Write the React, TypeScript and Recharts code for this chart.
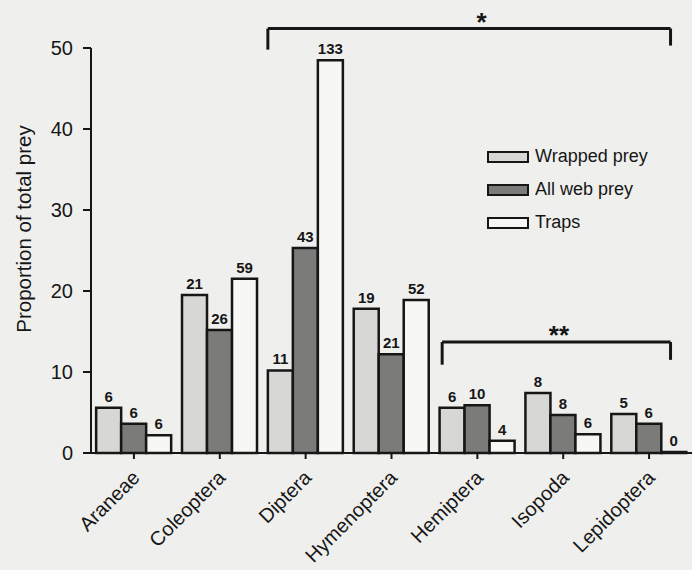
import React from 'react';
import { BarChart, Bar, XAxis, YAxis, LabelList, Legend, ReferenceLine, ReferenceDot } from 'recharts';

const categories = ['Araneae', 'Coleoptera', 'Diptera', 'Hymenoptera', 'Hemiptera', 'Isopoda', 'Lepidoptera'];
const seriesNames = ['Wrapped prey', 'All web prey', 'Traps'];
const wrapped = [5.6, 19.5, 10.2, 17.8, 5.6, 7.4, 4.8];
const allWeb = [3.6, 15.2, 25.3, 12.2, 5.9, 4.7, 3.6];
const traps = [2.2, 21.5, 48.5, 18.9, 1.5, 2.3, 0];
const wrappedN = [6, 21, 11, 19, 6, 8, 5];
const allWebN = [6, 26, 43, 21, 10, 8, 6];
const trapsN = [6, 59, 133, 52, 4, 6, 0];
const yTicks = [0, 10, 20, 30, 40, 50];

// significance brackets, x in band units (band k spans [k, k+1])
const bracket1 = { x1: 2.06, x2: 6.75, y: 52.4, yl: 49.8, yr: 50.3, mark: '*', mx: 4.55, my: 54.0 };
const bracket2 = { x1: 4.09, x2: 6.75, y: 13.7, yl: 10.9, yr: 11.5, mark: '**', mx: 5.45, my: 15.3 };

const data = categories.map((c, i) => ({
  name: c,
  wrapped: wrapped[i],
  allWeb: allWeb[i],
  traps: traps[i],
  wrappedN: wrappedN[i],
  allWebN: allWebN[i],
  trapsN: trapsN[i],
}));

// hidden numeric helper axis spans [0, n-1] across the plot width
const NUM_MAX = categories.length - 1;
const band = (b: number) => (b * NUM_MAX) / categories.length;

const FONT = '"Liberation Sans", Arial, Helvetica, sans-serif';
const INK = '#161616';

const XTick = (props: any) => {
  const { x, y, payload } = props;
  return (
    <g transform={`translate(${x + 2},${y + 13})`}>
      <text
        textAnchor="end"
        transform="rotate(-45)"
        fontSize={20}
        fontFamily={FONT}
        fill={INK}
        dy="0.35em"
      >
        {payload.value}
      </text>
    </g>
  );
};

const LegendContent = (props: any) => {
  const payload = [...(props.payload || [])].sort(
    (a: any, b: any) => seriesNames.indexOf(a.value) - seriesNames.indexOf(b.value)
  );
  return (
    <div style={{ fontFamily: FONT, fontSize: 18, color: INK }}>
      {payload.map((p: any) => (
        <div key={p.value} style={{ display: 'flex', alignItems: 'center', height: 33 }}>
          <div
            style={{
              width: 38,
              height: 8,
              background: p.color,
              border: `2px solid ${INK}`,
              marginRight: 6,
            }}
          />
          <span>{p.value}</span>
        </div>
      ))}
    </div>
  );
};

const YLabel = () => (
  <text
    x={0}
    y={0}
    transform="translate(31,229) rotate(-90)"
    textAnchor="middle"
    fontSize={20.5}
    fontFamily={FONT}
    fill={INK}
  >
    Proportion of total prey
  </text>
);

const labelStyle = { fontSize: 15, fontFamily: FONT, fill: INK, fontWeight: 'bold' as const };

export default function App() {
  const bk = (b: typeof bracket1, key: string) => [
    <ReferenceLine
      key={key + 'h'}
      xAxisId="n"
      ifOverflow="visible"
      segment={[{ x: band(b.x1), y: b.y }, { x: band(b.x2), y: b.y }]}
      stroke={INK}
      strokeWidth={3}
    />,
    <ReferenceLine
      key={key + 'l'}
      xAxisId="n"
      ifOverflow="visible"
      segment={[{ x: band(b.x1), y: b.y }, { x: band(b.x1), y: b.yl }]}
      stroke={INK}
      strokeWidth={3}
    />,
    <ReferenceLine
      key={key + 'r'}
      xAxisId="n"
      ifOverflow="visible"
      segment={[{ x: band(b.x2), y: b.y }, { x: band(b.x2), y: b.yr }]}
      stroke={INK}
      strokeWidth={3}
    />,
    <ReferenceDot
      key={key + 'm'}
      xAxisId="n"
      x={band(b.mx)}
      y={b.my}
      r={0}
      ifOverflow="visible"
      stroke="none"
      fill="none"
      label={{ value: b.mark, position: 'center', fontSize: 26, fontWeight: 'bold', fill: INK, fontFamily: FONT, dy: 6 }}
    />,
  ];

  return (
    <div style={{ position: 'absolute', left: 0, top: 0, width: 692, height: 570, background: '#efefed', overflow: 'hidden' }}>
      <BarChart
        width={692}
        height={570}
        data={data}
        margin={{ top: 48, right: 0, bottom: 18, left: 38 }}
        barCategoryGap="6%"
        barGap={0}
        style={{ fontFamily: FONT }}
      >
        <XAxis
          dataKey="name"
          xAxisId="c"
          interval={0}
          height={99}
          tick={<XTick />}
          tickSize={6}
          axisLine={{ stroke: INK, strokeWidth: 2 }}
          tickLine={{ stroke: INK, strokeWidth: 2 }}
        />
        <XAxis xAxisId="n" type="number" domain={[0, NUM_MAX]} allowDataOverflow hide />
        <YAxis
          domain={[0, 50]}
          ticks={yTicks}
          width={53}
          tickSize={8}
          tickMargin={10}
          interval={0}
          tick={{ fontSize: 20, fill: INK, fontFamily: FONT }}
          axisLine={{ stroke: INK, strokeWidth: 2 }}
          tickLine={{ stroke: INK, strokeWidth: 2 }}
          label={<YLabel />}
        />
        <Legend
          layout="vertical"
          verticalAlign="middle"
          align="center"
          content={<LegendContent />}
          wrapperStyle={{ position: 'absolute', left: 487, top: 140, width: 200 }}
        />
        <Bar xAxisId="c" dataKey="wrapped" name="Wrapped prey" fill="#d7d7d5" stroke={INK} strokeWidth={2.5} isAnimationActive={false}>
          <LabelList dataKey="wrappedN" position="top" offset={6} style={labelStyle} />
        </Bar>
        <Bar xAxisId="c" dataKey="allWeb" name="All web prey" fill="#7b7b79" stroke={INK} strokeWidth={2.5} isAnimationActive={false}>
          <LabelList dataKey="allWebN" position="top" offset={6} style={labelStyle} />
        </Bar>
        <Bar xAxisId="c" dataKey="traps" name="Traps" fill="#f7f7f5" stroke={INK} strokeWidth={2.5} minPointSize={1} isAnimationActive={false}>
          <LabelList dataKey="trapsN" position="top" offset={6} style={labelStyle} />
        </Bar>
        {bk(bracket1, 'b1')}
        {bk(bracket2, 'b2')}
      </BarChart>
    </div>
  );
}
